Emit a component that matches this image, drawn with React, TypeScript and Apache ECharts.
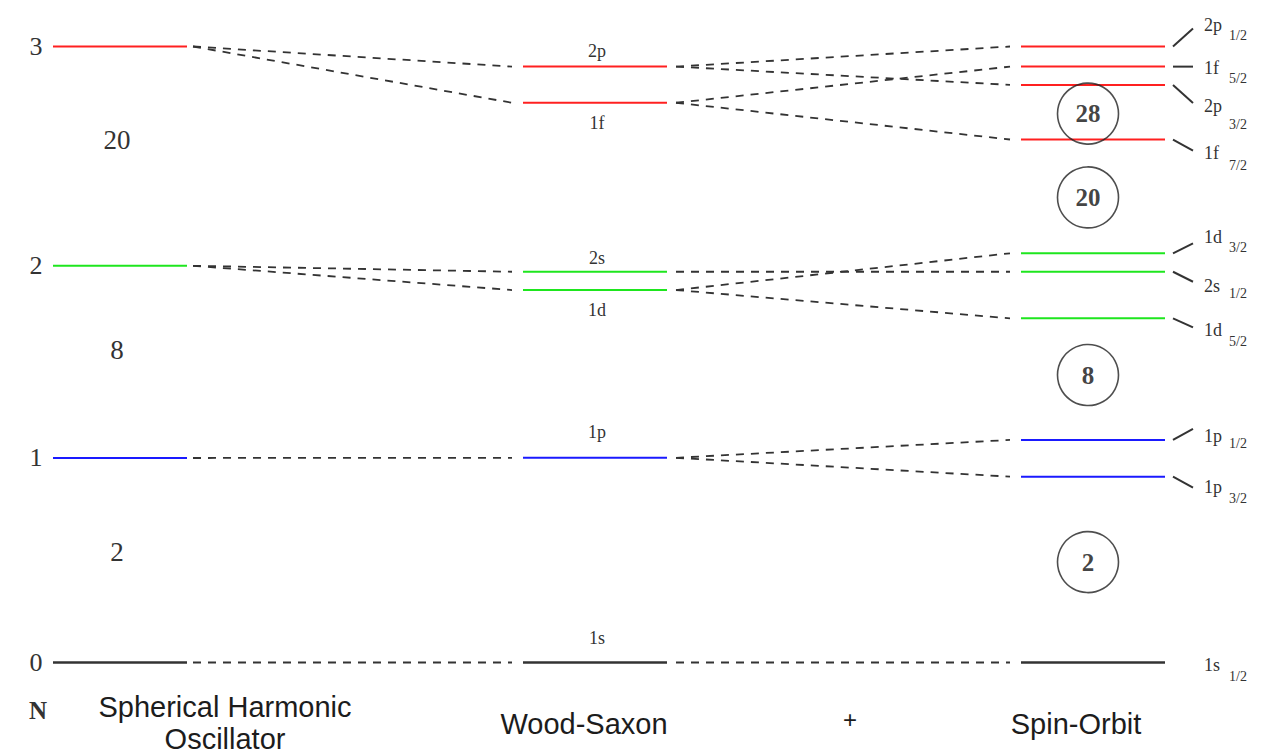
import React, { useEffect, useRef } from "react";
import * as echarts from "echarts";

// Harmonic-oscillator shells N = 0..3 (energy in units of ħω)
const shoShells = ["0", "1", "2", "3"];
const shoEnergies = [0, 0.996, 1.932, 3.0];
// Closed-shell numbers of the pure oscillator, sitting in the gaps
const shoMagic = ["2", "8", "20"];
const shoMagicEnergies = [0.538, 1.522, 2.545];

// Woods-Saxon levels (nℓ) and the oscillator shell each one comes from
const wsLabels = ["1s", "1p", "1d", "2s", "1f", "2p"];
const wsEnergies = [0, 0.997, 1.814, 1.903, 2.726, 2.902];
const wsShell = [0, 1, 2, 2, 3, 3];

// Spin-orbit split levels nℓ_j and their Woods-Saxon parent
const soLabels = ["1s", "1p", "1p", "1d", "2s", "1d", "1f", "2p", "1f", "2p"];
const soJ = ["1/2", "3/2", "1/2", "5/2", "1/2", "3/2", "7/2", "3/2", "5/2", "1/2"];
const soEnergies = [0, 0.905, 1.084, 1.676, 1.903, 1.993, 2.547, 2.813, 2.902, 3.0];
const soParent = [0, 1, 1, 2, 3, 2, 4, 5, 4, 5];

// Magic numbers, circled in the gaps of the spin-orbit spectrum
const magicNumbers = ["2", "8", "20", "28"];
const magicEnergies = [0.489, 1.4, 2.265, 2.673];

const columnTitles = ["Spherical Harmonic\nOscillator", "Wood-Saxon", "Spin-Orbit"];

// ---- layout & style ----
const SHELL_COLORS = ["#333333", "#1a1aff", "#1ee61e", "#ff2020"];
const SHO_X = [53, 187];
const WS_X = [523, 667];
const SO_X = [1021, 1165];
const GAP_L = 6;
const GAP_R = 11;
const MAGIC_X = 1088;
const SHO_MAGIC_X = 117;

const SERIF = "'Liberation Serif', 'Times New Roman', serif";
const SANS = "'Liberation Sans', Arial, sans-serif";
const INK = "#333333";

// label offsets (px) relative to each level line
const wsLabelDy = [-25, -26, 20, -14, 20, -16];
const soTickDy = [null, 11, -11, 9, 10, -10, 11, 18, 0, -18];
const soNameDy = [2.5, 10, -3.5, 12, 14, -16, 13, 21, 1, -21.5];
const soSubDy = [14, 22, 3.5, 23, 22, -6, 25.5, 40, 12, -11.5];

const dashStyle = { stroke: INK, lineWidth: 1.8, lineDash: [8, 7] };

function text(x: number, y: number, str: string, size: number, opts: any = {}) {
  return {
    type: "text",
    x,
    y,
    style: {
      text: str,
      fill: opts.fill || INK,
      fontSize: size,
      fontFamily: opts.family || SERIF,
      fontWeight: opts.weight || "normal",
      lineHeight: opts.lineHeight,
      align: opts.align || "center",
      verticalAlign: "middle",
    },
  };
}

function levelLine(api: any, xs: number[], e: number, color: string) {
  const p0 = api.coord([xs[0], e]);
  const p1 = api.coord([xs[1], e]);
  return {
    type: "line",
    shape: { x1: p0[0], y1: p0[1], x2: p1[0], y2: p1[1] },
    style: { stroke: color, lineWidth: color === INK ? 2.6 : 2 },
  };
}

export default function App() {
  const ref = useRef<HTMLDivElement>(null);

  useEffect(() => {
    if (!ref.current) return;
    const chart = echarts.init(ref.current, undefined, { renderer: "svg" });

    const shoSeries = {
      type: "custom",
      name: "oscillator",
      clip: false,
      silent: true,
      data: shoEnergies.map((e, i) => [SHO_X[0], e, i]),
      renderItem: (params: any, api: any) => {
        const i = params.dataIndex;
        const e = api.value(1);
        const p = api.coord([SHO_X[0], e]);
        return {
          type: "group",
          children: [
            levelLine(api, SHO_X, e, SHELL_COLORS[i]),
            text(p[0] - 17, p[1], shoShells[i], 26),
          ],
        };
      },
    };

    const shoMagicSeries = {
      type: "custom",
      name: "oscillator closures",
      clip: false,
      silent: true,
      data: shoMagicEnergies.map((e, i) => [SHO_MAGIC_X, e, i]),
      renderItem: (params: any, api: any) => {
        const p = api.coord([api.value(0), api.value(1)]);
        return text(p[0], p[1], shoMagic[params.dataIndex], 27);
      },
    };

    const wsSeries = {
      type: "custom",
      name: "Woods-Saxon",
      clip: false,
      silent: true,
      data: wsEnergies.map((e, i) => [WS_X[0], e, i]),
      renderItem: (params: any, api: any) => {
        const i = params.dataIndex;
        const e = api.value(1);
        const mid = api.coord([(WS_X[0] + WS_X[1]) / 2 + 2, e]);
        return {
          type: "group",
          children: [
            levelLine(api, WS_X, e, SHELL_COLORS[wsShell[i]]),
            text(mid[0], mid[1] + wsLabelDy[i], wsLabels[i], 18),
          ],
        };
      },
    };

    const soSeries = {
      type: "custom",
      name: "spin-orbit",
      clip: false,
      silent: true,
      data: soEnergies.map((e, i) => [SO_X[0], e, i]),
      renderItem: (params: any, api: any) => {
        const i = params.dataIndex;
        const e = api.value(1);
        const end = api.coord([SO_X[1], e]);
        const shell = wsShell[soParent[i]];
        const children: any[] = [levelLine(api, SO_X, e, SHELL_COLORS[shell])];
        const dy = soTickDy[i];
        if (dy !== null) {
          children.push({
            type: "line",
            shape: { x1: end[0] + 8, y1: end[1], x2: end[0] + 28, y2: end[1] + dy },
            style: { stroke: INK, lineWidth: 2 },
          });
        }
        children.push(text(end[0] + 39, end[1] + soNameDy[i], soLabels[i], 18, { align: "left" }));
        children.push(text(end[0] + 64, end[1] + soSubDy[i], soJ[i], 14, { align: "left" }));
        return { type: "group", children };
      },
    };

    // dashed correlation lines: oscillator -> Woods-Saxon
    const shoToWs = {
      type: "custom",
      name: "oscillator to Woods-Saxon",
      clip: false,
      silent: true,
      data: wsEnergies.map((e, i) => [SHO_X[1], shoEnergies[wsShell[i]], WS_X[0], e]),
      renderItem: (params: any, api: any) => {
        const a = api.coord([api.value(0) + GAP_L, api.value(1)]);
        const b = api.coord([api.value(2) - GAP_R, api.value(3)]);
        return { type: "line", shape: { x1: a[0], y1: a[1], x2: b[0], y2: b[1] }, style: dashStyle };
      },
    };

    // dashed correlation lines: Woods-Saxon -> spin-orbit partners
    const wsToSo = {
      type: "custom",
      name: "Woods-Saxon to spin-orbit",
      clip: false,
      silent: true,
      data: soEnergies.map((e, i) => [WS_X[1], wsEnergies[soParent[i]], SO_X[0], e]),
      renderItem: (params: any, api: any) => {
        const a = api.coord([api.value(0) + GAP_L + 3, api.value(1)]);
        const b = api.coord([api.value(2) - GAP_R, api.value(3)]);
        return { type: "line", shape: { x1: a[0], y1: a[1], x2: b[0], y2: b[1] }, style: dashStyle };
      },
    };

    const magicSeries = {
      type: "scatter",
      name: "magic numbers",
      silent: true,
      symbol: "circle",
      symbolSize: 61,
      z: 5,
      data: magicEnergies.map((e, i) => [MAGIC_X, e, magicNumbers[i]]),
      itemStyle: { color: "rgba(0,0,0,0)", borderColor: "#222", borderWidth: 1.6 },
      label: {
        show: true,
        position: "inside",
        formatter: (p: any) => p.value[2],
        fontFamily: SERIF,
        fontWeight: "bold",
        fontSize: 25,
        color: "#111",
      },
    };

    const titleX = [225, 584, 1076];
    const titleY = [723, 724, 724];

    chart.setOption({
      animation: false,
      backgroundColor: "#ffffff",
      grid: { left: 0, right: 0, top: 46.5, bottom: 91.5 },
      xAxis: { type: "value", min: 0, max: 1261, show: false },
      yAxis: { type: "value", min: 0, max: 3, show: false },
      graphic: [
        text(38, 710, "N", 25, { weight: "bold" }),
        ...columnTitles.map((t, k) =>
          text(titleX[k], titleY[k], t, 29, { family: SANS, fill: "#1c1c1c", lineHeight: 32 })
        ),
        text(850, 719, "+", 24, { family: SANS, fill: "#1c1c1c" }),
      ],
      series: [shoToWs, wsToSo, shoSeries, shoMagicSeries, wsSeries, soSeries, magicSeries],
    });

    return () => chart.dispose();
  }, []);

  return (
    <div
      ref={ref}
      style={{ position: "absolute", left: 0, top: 0, width: 1261, height: 754, background: "#fff" }}
    />
  );
}
